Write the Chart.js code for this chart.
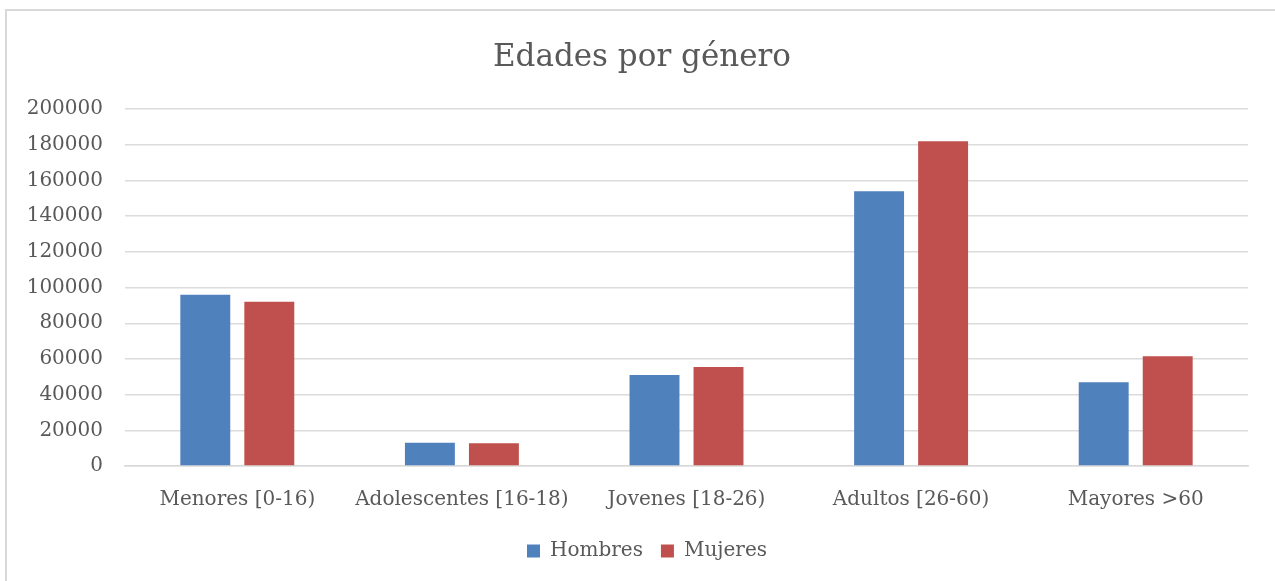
<!DOCTYPE html>
<html>
<head>
<meta charset="utf-8">
<script src="https://cdn.jsdelivr.net/npm/chart.js@4"></script>
<style>
    html, body { margin: 0; padding: 0; background: #fff; overflow: hidden; }
    #wrap { position: relative; width: 1275px; height: 581px; }
    #frame {
        position: absolute; left: 5px; top: 9px; width: 1280px; height: 600px;
        border-left: 2px solid #d9d9d9; border-top: 2px solid #d9d9d9;
    }
    canvas { position: absolute; left: 0; top: 0; }
</style>
</head>
<body>
<div id="wrap">
    <div id="frame"></div>
    <canvas id="chart" width="1275" height="581"></canvas>
</div>
<script>
// Edades por género
const categories = ['Menores [0-16)', 'Adolescentes [16-18)', 'Jovenes [18-26)', 'Adultos [26-60)', 'Mayores >60'];
const hombres = [96000, 13000, 51000, 154000, 47000];
const mujeres = [92000, 12800, 55500, 182000, 61500];

const FONT = 'DejaVu Serif';
const TEXT = '#595959';

// title and legend sit centred on the frame, not on the plot
const nudge = {
    id: 'nudge',
    afterLayout(chart) {
        if (chart.titleBlock) chart.titleBlock.left += 36;
        if (chart.legend) chart.legend.left += 46;
    }
};

new Chart(document.getElementById('chart'), {
    type: 'bar',
    data: {
        labels: categories,
        datasets: [
            { label: 'Hombres', data: hombres, backgroundColor: '#4f81bd' },
            { label: 'Mujeres', data: mujeres, backgroundColor: '#c0504d' }
        ]
    },
    plugins: [nudge],
    options: {
        responsive: false,
        animation: false,
        devicePixelRatio: 1,
        datasets: { bar: { categoryPercentage: 0.57, barPercentage: 0.78 } },
        layout: { padding: { top: 39, right: 27, left: 0, bottom: 10 } },
        plugins: {
            title: {
                display: true,
                text: 'Edades por género',
                color: TEXT,
                font: { family: FONT, size: 31, weight: 'normal' },
                padding: { top: 0, bottom: 33 }
            },
            legend: {
                position: 'bottom',
                labels: {
                    color: TEXT,
                    font: { family: FONT, size: 20 },
                    boxWidth: 13,
                    boxHeight: 13,
                    padding: 18
                }
            },
            tooltip: { enabled: false }
        },
        scales: {
            x: {
                grid: { display: false, drawTicks: false },
                border: { color: '#d9d9d9', width: 1.5 },
                ticks: { color: TEXT, font: { family: FONT, size: 20 }, padding: 22, maxRotation: 0 },
                afterFit: (s) => { s.height = 57; }
            },
            y: {
                min: 0,
                max: 200000,
                grid: { color: '#dcdcdc', lineWidth: 1.5, drawTicks: false },
                border: { display: false },
                ticks: {
                    stepSize: 20000,
                    color: TEXT,
                    font: { family: FONT, size: 20 },
                    padding: 22,
                    callback: (v) => String(v)
                },
                afterFit: (s) => { s.width = 125; }
            }
        }
    }
});
</script>
</body>
</html>
